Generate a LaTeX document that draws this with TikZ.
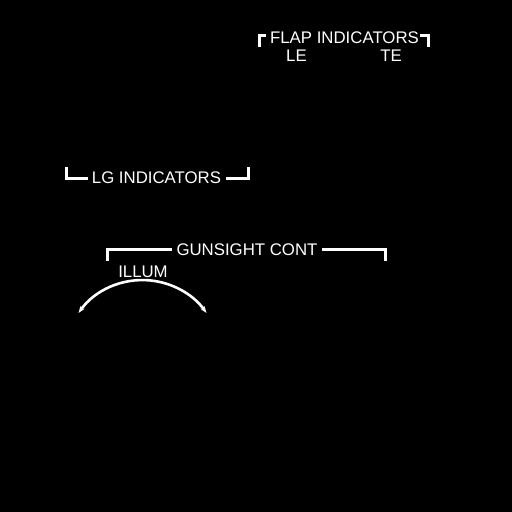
\documentclass[tikz,border=0pt]{standalone}
\usepackage{fontspec}
\setmainfont{Liberation Sans}
\usetikzlibrary{arrows.meta}
\tikzset{
  lbl/.style={text=white,font=\fontsize{16.8}{19}\selectfont,inner sep=0pt,anchor=base},
  brk/.style={draw=white,line width=3pt,line cap=butt,line join=miter},
  arcln/.style={draw=white,line width=2.6pt,{Stealth[length=7pt,width=5pt]}-{Stealth[length=7pt,width=5pt]}}
}
\begin{document}
\begin{tikzpicture}[x=1pt,y=-1pt]
\fill[black] (0,0) rectangle (512,512);
\useasboundingbox (0,0) rectangle (512,512);
% FLAP INDICATORS
\node[lbl] (flap) at (344.5,43) {FLAP INDICATORS};
\node[lbl] (le) at (296.5,61) {LE};
\node[lbl] (te) at (391,61) {TE};
\draw[brk] (259,47) -- (259,35) -- (266,35);
\draw[brk] (420,35) -- (428,35) -- (428,47);
% LG INDICATORS
\node[lbl] (lg) at (156.5,183) {LG INDICATORS};
\draw[brk] (66,167) -- (66,178) -- (88,178);
\draw[brk] (226,178) -- (248,178) -- (248,167);
% GUNSIGHT CONT
\node[lbl] (gun) at (247,255) {GUNSIGHT CONT};
\draw[brk] (107,261) -- (107,249) -- (172,249);
\draw[brk] (322,249) -- (385,249) -- (385,261);
% ILLUM
\node[lbl] (illum) at (143,277) {ILLUM};
\coordinate (arcstart) at (78.5,313);
\draw[arcln] (arcstart) arc[start angle=-144.5,end angle=-35.5,radius=78.6];
\end{tikzpicture}
\end{document}
